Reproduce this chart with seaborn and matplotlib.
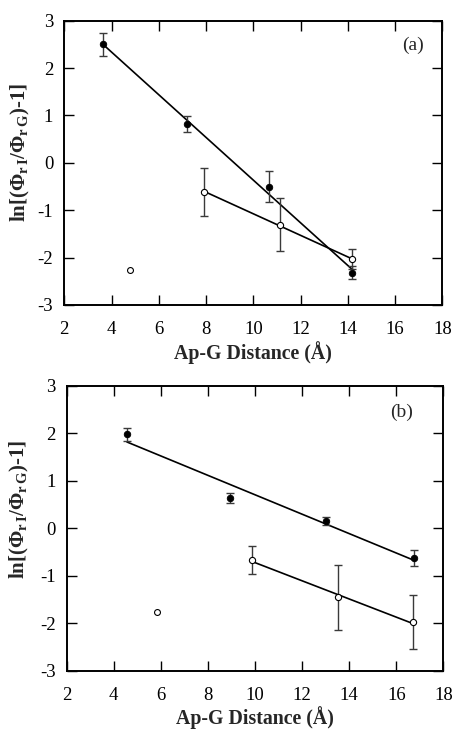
import numpy as np
import pandas as pd
import matplotlib
matplotlib.use("Agg")
import matplotlib.pyplot as plt
import seaborn as sns

# Panel (a): filled = series I, open = series II, plus an unfitted open point
a_fill_x = [3.64, 7.19, 10.67, 14.16]
a_fill_y = [2.50, 0.82, -0.50, -2.32]
a_fill_err = [0.24, 0.17, 0.33, 0.14]
a_open_x = [7.92, 11.11, 14.16]
a_open_y = [-0.61, -1.31, -2.03]
a_open_err = [0.51, 0.56, 0.22]
a_extra_x = [4.78]
a_extra_y = [-2.26]

# Panel (b)
b_fill_x = [4.56, 8.95, 13.02, 16.76]
b_fill_y = [1.975, 0.64, 0.15, -0.62]
b_fill_err = [0.13, 0.11, 0.08, 0.165]
b_open_x = [9.86, 13.52, 16.73]
b_open_y = [-0.67, -1.456, -1.98]
b_open_err = [0.30, 0.68, 0.565]
b_extra_x = [5.84]
b_extra_y = [-1.765]

x_ticks = [2, 4, 6, 8, 10, 12, 14, 16, 18]
y_ticks = [-3, -2, -1, 0, 1, 2, 3]

sns.set_theme(style="ticks")
plt.rcParams["font.family"] = ["Liberation Serif", "DejaVu Serif"]
plt.rcParams["axes.unicode_minus"] = False
plt.rcParams["mathtext.fontset"] = "custom"
plt.rcParams["mathtext.rm"] = "Liberation Serif:bold"
plt.rcParams["mathtext.it"] = "Liberation Serif:bold"
plt.rcParams["mathtext.bf"] = "Liberation Serif:bold"

fig = plt.figure(figsize=(4.54, 7.30), dpi=100)
ax_a = fig.add_axes([0.1416, 0.5822, 0.8326, 0.3894])
ax_b = fig.add_axes([0.1469, 0.0812, 0.8296, 0.3904])

panels = [
    (ax_a, "(a)", (16.75, 2.48), (-0.086, 0.538),
     a_fill_x, a_fill_y, a_fill_err, a_open_x, a_open_y, a_open_err, a_extra_x, a_extra_y),
    (ax_b, "(b)", (16.23, 2.45), (-0.095, 0.565),
     b_fill_x, b_fill_y, b_fill_err, b_open_x, b_open_y, b_open_err, b_extra_x, b_extra_y),
]

ylabel = r"ln[($\Phi_{\mathrm{r\,I}}$/$\Phi_{\mathrm{r\,G}}$)-1]"

for (ax, tag, tag_pos, lab_pos, fx, fy, fe, ox, oy, oe, ex, ey) in panels:
    fill = pd.DataFrame({"x": fx, "y": fy})
    opn = pd.DataFrame({"x": ox, "y": oy})
    extra = pd.DataFrame({"x": ex, "y": ey})

    # least-squares lines through each series
    sns.regplot(data=fill, x="x", y="y", ax=ax, scatter=False, ci=None,
                truncate=True, color="black", line_kws={"lw": 1.2})
    sns.regplot(data=opn, x="x", y="y", ax=ax, scatter=False, ci=None,
                truncate=True, color="black", line_kws={"lw": 1.2})

    ax.errorbar(fx, fy, yerr=fe, fmt="none", ecolor="#3a3a3a", elinewidth=1.0,
                capsize=2.8, capthick=1.0, zorder=3)
    ax.errorbar(ox, oy, yerr=oe, fmt="none", ecolor="#3a3a3a", elinewidth=1.0,
                capsize=2.8, capthick=1.0, zorder=3)

    sns.scatterplot(data=fill, x="x", y="y", ax=ax, color="black", s=22,
                    edgecolor="black", linewidth=0.6, zorder=5)
    sns.scatterplot(data=opn, x="x", y="y", ax=ax, color="white", s=20,
                    edgecolor="black", linewidth=0.8, zorder=5)
    sns.scatterplot(data=extra, x="x", y="y", ax=ax, color="white", s=18,
                    edgecolor="black", linewidth=0.8, zorder=5)

    ax.set_xlim(2, 18)
    ax.set_ylim(-3, 3)
    ax.set_xticks(x_ticks)
    ax.set_yticks(y_ticks)
    ax.tick_params(direction="in", length=7, width=1.0, top=True, right=True,
                   labelsize=13.5, colors="black")
    ax.tick_params(axis="x", pad=11.5)
    ax.tick_params(axis="y", pad=8)
    for sp in ax.spines.values():
        sp.set_linewidth(1.4)
        sp.set_color("black")
        sp.set_visible(True)

    ax.set_xlabel("Ap-G Distance (Å)", fontsize=14.3, fontweight="bold", labelpad=2)
    ax.set_ylabel(ylabel, fontsize=15, fontweight="bold")
    ax.yaxis.set_label_coords(*lab_pos)
    ax.text(tag_pos[0], tag_pos[1], tag, fontsize=14, ha="center", va="center")

fig.savefig("out.png", dpi=100)
